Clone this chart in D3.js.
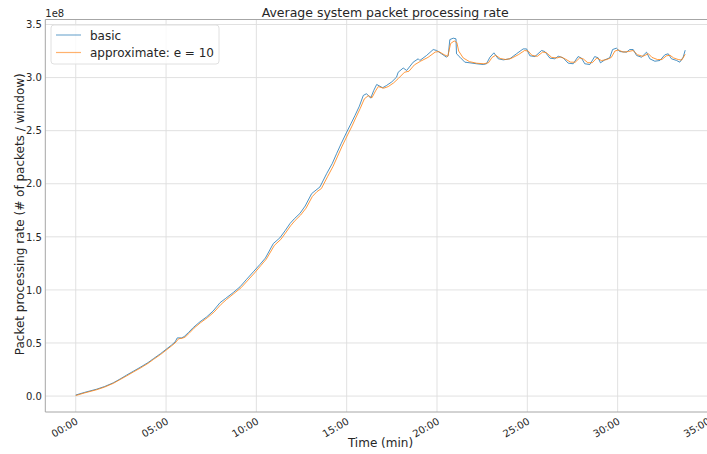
<!DOCTYPE html>
<html><head><meta charset="utf-8">
<script src="https://cdn.jsdelivr.net/npm/d3@7"></script>
<style>body{margin:0;background:#fff}svg{display:block;font-family:"DejaVu Sans",sans-serif}</style>
</head><body><div id="chart"></div>
<script>
// Time in minutes, values in units of 1e8 packets/window
const basicT = [0,0.5,1.16,1.6,2.08,2.5,2.82,3.2,3.56,4.0,4.3,4.7,5.0,5.3,5.5,5.62,5.86,6.0,6.25,6.51,6.88,7.25,7.6,7.99,8.3,8.72,9.1,9.46,9.83,10.2,10.5,10.94,11.3,11.6,11.86,12.1,12.41,12.7,13.06,13.3,13.52,13.89,14.2,14.44,14.7,15.0,15.25,15.46,15.7,15.92,16.1,16.33,16.5,16.66,16.99,17.21,17.5,17.76,17.85,18.13,18.32,18.68,18.96,19.05,19.42,19.79,19.98,20.25,20.53,20.62,20.71,20.9,21.05,21.08,21.27,21.54,21.82,22.19,22.56,22.74,22.93,23.15,23.39,23.67,24.03,24.4,24.77,24.96,25.14,25.42,25.79,25.97,26.25,26.52,26.71,26.98,27.26,27.54,27.81,28.0,28.18,28.46,28.73,28.92,29.05,29.29,29.56,29.72,29.93,30.12,30.49,30.67,30.86,31.05,31.32,31.6,31.78,32.06,32.34,32.61,32.8,32.98,33.26,33.44,33.63,33.74];
const basicV = [0.01,0.035,0.065,0.09,0.125,0.165,0.198,0.235,0.27,0.315,0.352,0.40,0.44,0.48,0.51,0.548,0.548,0.56,0.60,0.646,0.70,0.746,0.80,0.88,0.92,0.975,1.03,1.10,1.17,1.24,1.30,1.437,1.49,1.56,1.625,1.67,1.72,1.79,1.907,1.94,1.97,2.095,2.19,2.283,2.38,2.486,2.57,2.643,2.73,2.832,2.848,2.806,2.88,2.935,2.904,2.926,2.96,3.004,3.05,3.09,3.067,3.145,3.177,3.161,3.208,3.264,3.255,3.224,3.192,3.208,3.358,3.371,3.365,3.224,3.192,3.145,3.139,3.13,3.123,3.13,3.192,3.233,3.177,3.167,3.177,3.224,3.27,3.27,3.205,3.198,3.255,3.245,3.183,3.177,3.201,3.186,3.136,3.13,3.198,3.183,3.13,3.123,3.198,3.186,3.139,3.167,3.186,3.264,3.277,3.245,3.239,3.264,3.264,3.208,3.192,3.239,3.177,3.154,3.161,3.214,3.224,3.177,3.161,3.145,3.192,3.258];
const approxT = [0,0.5,1.16,1.6,2.08,2.5,2.82,3.2,3.56,4.0,4.3,4.7,5.0,5.3,5.5,5.7,5.9,6.05,6.3,6.55,6.9,7.3,7.65,8.05,8.35,8.75,9.15,9.5,9.9,10.25,10.55,11.0,11.35,11.65,11.9,12.15,12.45,12.75,13.1,13.35,13.6,13.95,14.25,14.5,14.75,15.05,15.3,15.5,15.75,15.98,16.2,16.4,16.6,16.75,17.05,17.3,17.6,17.85,18.2,18.45,18.75,19.1,19.5,19.9,20.1,20.4,20.6,20.75,20.95,21.1,21.2,21.45,21.8,22.2,22.6,22.85,23.05,23.25,23.5,23.8,24.1,24.5,24.85,25.05,25.25,25.55,25.85,26.05,26.35,26.65,26.85,27.1,27.4,27.65,27.9,28.1,28.35,28.6,28.85,29.1,29.4,29.65,29.85,30.05,30.3,30.6,30.85,31.1,31.4,31.7,31.9,32.2,32.45,32.7,32.9,33.1,33.35,33.55,33.74];
const approxV = [0.005,0.03,0.06,0.085,0.12,0.16,0.19,0.228,0.262,0.308,0.345,0.392,0.432,0.472,0.50,0.54,0.545,0.555,0.595,0.64,0.69,0.74,0.79,0.865,0.91,0.965,1.02,1.085,1.16,1.23,1.29,1.42,1.475,1.545,1.605,1.655,1.705,1.77,1.88,1.925,1.955,2.07,2.165,2.26,2.355,2.46,2.545,2.62,2.71,2.80,2.83,2.81,2.875,2.915,2.90,2.915,2.95,2.99,3.05,3.06,3.12,3.155,3.19,3.24,3.245,3.215,3.20,3.32,3.345,3.33,3.25,3.185,3.15,3.135,3.13,3.14,3.19,3.21,3.18,3.17,3.18,3.215,3.255,3.25,3.21,3.20,3.24,3.235,3.19,3.185,3.195,3.175,3.145,3.145,3.185,3.175,3.14,3.14,3.185,3.16,3.17,3.19,3.25,3.26,3.24,3.245,3.255,3.215,3.2,3.225,3.19,3.17,3.17,3.205,3.21,3.185,3.17,3.165,3.22];
const xTicks = [0,5,10,15,20,25,30,35];
const yTicks = [0,0.5,1.0,1.5,2.0,2.5,3.0,3.5];
const seriesNames = ["basic","approximate: e = 10"];
const seriesColors = ["#1f77b4","#ff7f0e"];

const W=707,H=454, L=45.3, R=715, T=19.5, B=412;
const svg=d3.select("#chart").append("svg").attr("width",W).attr("height",H);
const x=d3.scaleLinear().domain([-1.685,35.39]).range([L,R]);
const y=d3.scaleLinear().domain([-0.15,3.547]).range([B,T]);
const textCol="#262626", gridCol="#dedede", spineCol="#a6a6a6";

// grid
svg.append("g").selectAll("line").data(xTicks).join("line")
  .attr("x1",d=>x(d)).attr("x2",d=>x(d)).attr("y1",T).attr("y2",B)
  .attr("stroke",gridCol).attr("stroke-width",0.9);
svg.append("g").selectAll("line").data(yTicks).join("line")
  .attr("x1",L).attr("x2",R).attr("y1",d=>y(d)).attr("y2",d=>y(d))
  .attr("stroke",gridCol).attr("stroke-width",0.9);

// axes (no tick marks, as in the reference)
const fmtT = d => String(d).padStart(2,"0")+":00";
const xAxis = svg.append("g").attr("transform",`translate(0,${B})`)
  .call(d3.axisBottom(x).tickValues(xTicks).tickSize(0).tickPadding(0).tickFormat(fmtT));
xAxis.select(".domain").remove();
xAxis.selectAll("line").remove();
xAxis.selectAll("text").attr("fill",textCol).style("font-size","10px").style("font-family","DejaVu Sans")
  .attr("text-anchor","end").attr("y",0).attr("dy","0.73em")
  .attr("transform","translate(-1,5) rotate(-30)");
const yAxis = svg.append("g").attr("transform",`translate(${L},0)`)
  .call(d3.axisLeft(y).tickValues(yTicks).tickSize(0).tickPadding(3.5).tickFormat(d3.format(".1f")));
yAxis.select(".domain").remove();
yAxis.selectAll("line").remove();
yAxis.selectAll("text").attr("fill",textCol).style("font-size","10px").style("font-family","DejaVu Sans");

// lines
svg.append("clipPath").attr("id","clip").append("rect").attr("x",L).attr("y",T).attr("width",R-L).attr("height",B-T);
const line=d3.line().x(d=>x(d[0])).y(d=>y(d[1]));
const data=[d3.zip(basicT,basicV), d3.zip(approxT,approxV)];
svg.append("g").attr("clip-path","url(#clip)").selectAll("path").data(data).join("path")
  .attr("d",line).attr("fill","none").attr("stroke",(d,i)=>seriesColors[i])
  .attr("stroke-width",1).attr("stroke-opacity",0.8).attr("stroke-linejoin","round");

// spines
svg.append("line").attr("x1",L).attr("x2",L).attr("y1",T).attr("y2",B).attr("stroke",spineCol).attr("stroke-width",1);
svg.append("line").attr("x1",L).attr("x2",R).attr("y1",B).attr("y2",B).attr("stroke",spineCol).attr("stroke-width",1);
svg.append("line").attr("x1",L).attr("x2",R).attr("y1",T).attr("y2",T).attr("stroke",spineCol).attr("stroke-width",1);

// offset label
svg.append("text").attr("x",L).attr("y",17).text("1e8").attr("fill",textCol).style("font-size","10px");

// title
svg.append("text").attr("x",(L+R)/2+5).attr("y",16.5).attr("text-anchor","middle").text("Average system packet processing rate")
  .attr("fill",textCol).style("font-size","12.5px");

// axis labels
svg.append("text").attr("x",380.5).attr("y",447).attr("text-anchor","middle").text("Time (min)")
  .attr("fill",textCol).style("font-size","12px");
svg.append("text").attr("transform",`translate(24,${(T+B)/2-1.5}) rotate(-90)`).attr("text-anchor","middle")
  .text("Packet processing rate (# of packets / window)").attr("fill",textCol).style("font-size","12px");

// legend
const lg=svg.append("g");
lg.append("rect").attr("x",51).attr("y",25).attr("width",168).attr("height",39).attr("rx",3)
  .attr("fill","#fff").attr("fill-opacity",0.8).attr("stroke","#e0e0e0");
seriesNames.forEach((n,i)=>{
  const yy=35+i*17.5;
  lg.append("line").attr("x1",56).attr("x2",81).attr("y1",yy).attr("y2",yy)
    .attr("stroke",seriesColors[i]).attr("stroke-opacity",0.6).attr("stroke-width",1.2);
  lg.append("text").attr("x",90).attr("y",yy+4.5).text(n).attr("fill",textCol).style("font-size","12px");
});
</script></body></html>
